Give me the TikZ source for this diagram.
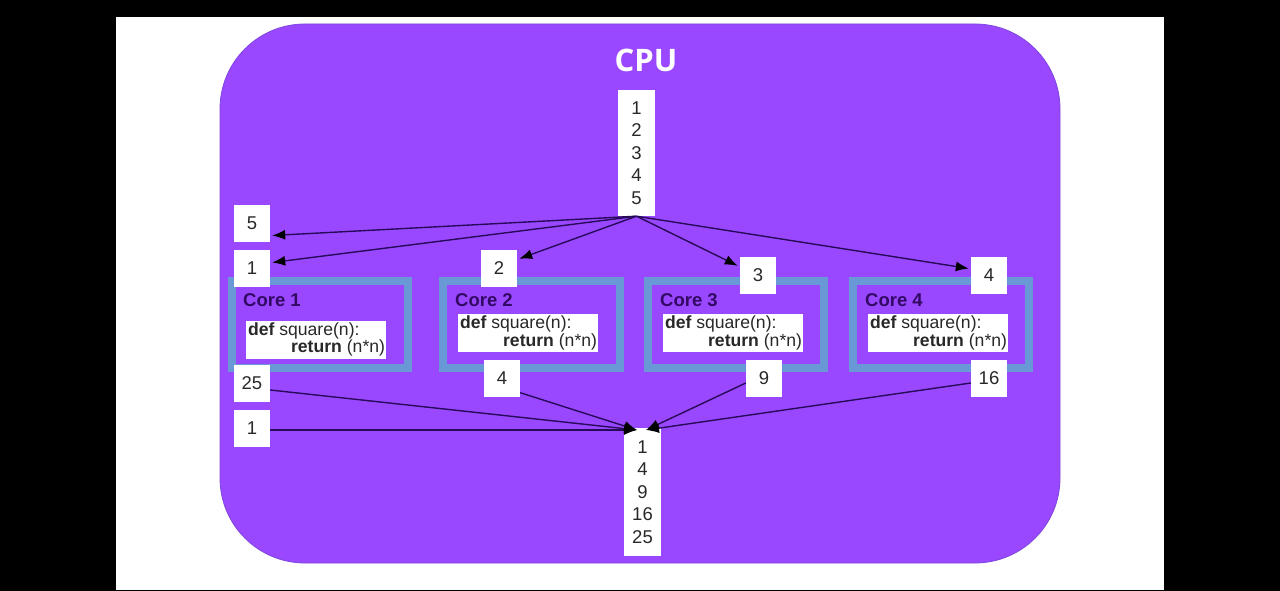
\documentclass[tikz,border=0pt]{standalone}
\usepackage{fontspec}
\setmainfont{Liberation Sans}
\newfontfamily\cpufont{Open Sans}
\usetikzlibrary{arrows.meta,calc}
\definecolor{cpupurple}{RGB}{154,72,255}
\definecolor{cpuedge}{RGB}{125,70,220}
\definecolor{coreblue}{RGB}{104,152,214}
\definecolor{corelabel}{RGB}{50,10,100}
\definecolor{codetext}{RGB}{40,40,40}
\definecolor{arrowcol}{RGB}{40,10,90}
\tikzset{
  numbox/.style={fill=white, minimum width=36pt, minimum height=37pt, inner sep=0pt,
    font=\fontsize{18.5}{22}\selectfont, text=codetext},
  listbox/.style={fill=white, minimum width=37pt, inner sep=0pt, align=center,
    font=\fontsize{18.5}{22.5}\selectfont, text=codetext},
  corebox/.style={draw=coreblue, line width=8pt},
  corelab/.style={anchor=west, inner sep=0pt, font=\fontsize{18.5}{22}\selectfont\bfseries, text=corelabel},
  codebox/.style={fill=white, minimum width=140pt, minimum height=38pt, inner sep=0pt},
  codeline/.style={inner sep=0pt, font=\fontsize{17.6}{19}\selectfont, text=codetext},
  arr/.style={draw=arrowcol, line width=1.4pt, -{Latex[length=13pt,width=10pt,color=black]}},
}
\begin{document}
\begin{tikzpicture}[x=1pt,y=-1pt]
\useasboundingbox (0,0) rectangle (1280,591);
\fill[black] (0,0) rectangle (1280,591);
\fill[white] (116,17) rectangle (1164,590);
\draw[fill=cpupurple, draw=cpuedge, line width=0.8pt, rounded corners=85pt] (220,24) rectangle (1060,563);
\node[text=white, font=\cpufont\fontsize{31}{36}\selectfont\bfseries] (cpu) at (646,60) {CPU};

% cores
\foreach \i/\xa/\xb in {1/232/408, 2/443/620, 3/648/824, 4/853/1029}{
  \draw[corebox] (\xa,281) rectangle (\xb,368);
}
\node[corelab] (l1) at (243,300) {Core 1};
\node[corelab] (l2) at (455,300) {Core 2};
\node[corelab] (l3) at (660,300) {Core 3};
\node[corelab] (l4) at (865,300) {Core 4};

\foreach \n/\x/\y in {1/316/339.5, 2/528/333, 3/733/333, 4/938/333}{
  \node[codebox] (c\n) at (\x,\y) {};
  \node[codeline, anchor=north west] (d\n) at ([shift={(2pt,-2pt)}]c\n.north west) {\textbf{def} square(n):};
  \node[codeline, anchor=south east] (r\n) at ([shift={(-1pt,2pt)}]c\n.south east) {\textbf{return} (n*n)};
}

% input list
\node[listbox, minimum height=126pt] (in) at (636.5,153) {1\\2\\3\\4\\5};
% output list
\node[listbox, minimum height=128pt] (out) at (642.5,492) {1\\4\\9\\16\\25};

% input boxes
\node[numbox] (b5) at (252,223.5) {5};
\node[numbox] (b1) at (252,268.5) {1};
\node[numbox] (b2) at (499,268.5) {2};
\node[numbox] (b3) at (758,275.5) {3};
\node[numbox] (b4) at (989,275.5) {4};
% result boxes
\node[numbox] (o25) at (252,383.5) {25};
\node[numbox] (o1) at (252,428.5) {1};
\node[numbox] (o4) at (502,378) {4};
\node[numbox] (o9) at (764,378) {9};
\node[numbox] (o16) at (989,378) {16};

\coordinate (tipL) at (637,430);
\coordinate (tipR) at (646,430);

\draw[arr] (in.south) -- ([shift={(2pt,-12pt)}]b5.east);
\draw[arr] (in.south) -- ([shift={(2pt,6pt)}]b1.east);
\draw[arr] (in.south) -- ([shift={(2pt,-9pt)}]b2.north east);
\draw[arr] (in.south) -- ([shift={(-2pt,-9pt)}]b3.north west);
\draw[arr] (in.south) -- ([shift={(-2pt,7pt)}]b4.west);

\draw[arr] ([yshift=-6.5pt]o25.east) -- (tipL);
\draw[arr] ([yshift=-1.5pt]o1.east) -- (tipL);
\draw[arr] ([yshift=4pt]o4.south east) -- (tipL);
\draw[arr] ([yshift=-5pt]o9.west) -- (tipR);
\draw[arr] ([yshift=-5pt]o16.west) -- (tipR);
\end{tikzpicture}
\end{document}
